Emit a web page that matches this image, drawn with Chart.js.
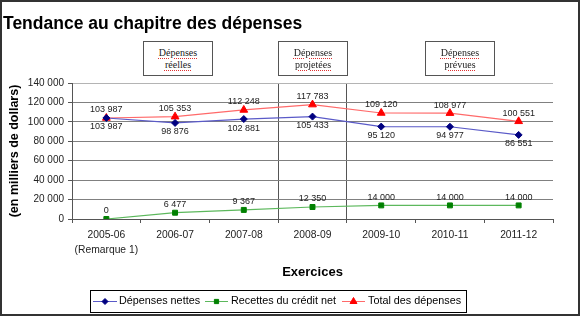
<!DOCTYPE html>
<html>
<head>
<meta charset="utf-8">
<script src="https://cdn.jsdelivr.net/npm/chart.js@4.4.0/dist/chart.umd.min.js"></script>
<style>
  html, body { margin: 0; padding: 0; background: #fff; }
  #wrap { position: relative; width: 580px; height: 316px; overflow: hidden; }
  #chart { position: absolute; left: 0; top: 0; }
  #frame { position: absolute; left: 0; top: 0; width: 580px; height: 316px; box-sizing: border-box;
           border: 2px solid #333; pointer-events: none; }
  .phase { position: absolute; top: 41px; height: 35px; box-sizing: border-box; border: 1px solid #555;
           background: #fff; font: 10px "Liberation Serif", "DejaVu Serif", serif; color: #222;
           text-align: center; line-height: 11.5px; padding-top: 5px; }
  .phase span { text-decoration: underline dotted #e03030; text-underline-offset: 2px; }
</style>
</head>
<body>
<div id="wrap">
  <canvas id="chart" width="580" height="316"></canvas>
  <div class="phase" style="left:143px;width:70px"><span>Dépenses</span><br><span>réelles</span></div>
  <div class="phase" style="left:278px;width:70px"><span>Dépenses</span><br><span>projetées</span></div>
  <div class="phase" style="left:425px;width:70px"><span>Dépenses</span><br><span>prévues</span></div>
  <div id="frame"></div>
</div>
<script>
// values (en milliers de dollars)
const years = [['2005-06', '(Remarque 1)'], '2006-07', '2007-08', '2008-09', '2009-10', '2010-11', '2011-12'];
const depensesNettes = [103987, 98876, 102881, 105433, 95120, 94977, 86551];
const recettesCredit = [0, 6477, 9367, 12350, 14000, 14000, 14000];
const totalDepenses = [103987, 105353, 112248, 117783, 109120, 108977, 100551];
const yTicks = { min: 0, max: 140000, step: 20000 };

const fmt = v => String(v).replace(/\B(?=(\d{3})+(?!\d))/g, ' ');

// number labels above / below the points
const pointLabels = {
  id: 'pointLabels',
  afterDatasetsDraw(chart) {
    const ctx = chart.ctx;
    ctx.save();
    ctx.font = '9px "Liberation Sans", Arial, sans-serif';
    ctx.fillStyle = '#222';
    ctx.textAlign = 'center';
    ctx.textBaseline = 'middle';
    chart.data.datasets.forEach((ds, i) => {
      const meta = chart.getDatasetMeta(i);
      meta.data.forEach((pt, j) => {
        const dy = ds.labelPos === 'below' ? 9 : -8;
        ctx.fillText(fmt(ds.data[j]), pt.x, pt.y + dy);
      });
    });
    ctx.restore();
  }
};

// title and boxed legend
const decor = {
  id: 'decor',
  afterDraw(chart) {
    const ctx = chart.ctx;
    ctx.save();
    ctx.fillStyle = '#000';
    ctx.font = 'bold 17.5px "Liberation Sans", Arial, sans-serif';
    ctx.textBaseline = 'alphabetic';
    ctx.textAlign = 'left';
    ctx.fillText('Tendance au chapitre des dépenses', 3, 29);

    // legend box
    ctx.strokeStyle = '#000';
    ctx.lineWidth = 1;
    ctx.strokeRect(90.5, 290.5, 376, 22);
    const items = [
      { ds: 0, x0: 93, x1: 117, tx: 119 },
      { ds: 1, x0: 205, x1: 228, tx: 231 },
      { ds: 2, x0: 342, x1: 365, tx: 368 }
    ];
    ctx.font = '10.8px "Liberation Sans", Arial, sans-serif';
    ctx.textBaseline = 'middle';
    items.forEach(it => {
      const ds = chart.data.datasets[it.ds];
      const y = 301.5;
      ctx.strokeStyle = ds.borderColor;
      ctx.beginPath();
      ctx.moveTo(it.x0, y);
      ctx.lineTo(it.x1, y);
      ctx.stroke();
      ctx.fillStyle = ds.pointBackgroundColor;
      ctx.strokeStyle = ds.pointBorderColor;
      Chart.helpers.drawPoint(ctx, {
        pointStyle: ds.pointStyle, radius: ds.pointRadius - 0.5, borderWidth: 1
      }, (it.x0 + it.x1) / 2, y);
      ctx.fillStyle = '#000';
      ctx.fillText(ds.label, it.tx, y);
    });
    ctx.restore();
  }
};

new Chart(document.getElementById('chart'), {
  type: 'line',
  data: {
    labels: years,
    datasets: [
      {
        label: 'Dépenses nettes',
        data: depensesNettes,
        borderColor: '#5a5ac8',
        pointStyle: 'rectRot',
        pointRadius: 3.5,
        pointBackgroundColor: '#000080',
        pointBorderColor: '#000080',
        labelPos: 'below'
      },
      {
        label: 'Recettes du crédit net',
        data: recettesCredit,
        borderColor: '#5cb85c',
        pointStyle: 'rect',
        pointRadius: 3.5,
        pointBackgroundColor: '#008000',
        pointBorderColor: '#008000',
        labelPos: 'above'
      },
      {
        label: 'Total des dépenses',
        data: totalDepenses,
        borderColor: '#ff6a6a',
        pointStyle: 'triangle',
        pointRadius: 4.5,
        pointBackgroundColor: '#ff0000',
        pointBorderColor: '#ff0000',
        labelPos: 'above'
      }
    ].map(d => Object.assign({ borderWidth: 1.2, tension: 0, pointBorderWidth: 1, pointHoverRadius: d.pointRadius }, d))
  },
  options: {
    responsive: false,
    animation: false,
    events: [],
    layout: { padding: { left: 0, top: 83, right: 27, bottom: 0 } },
    plugins: {
      legend: { display: false },
      tooltip: { enabled: false }
    },
    scales: {
      x: {
        offset: true,
        grid: {
          offset: true,
          color: c => (c.index === 3 || c.index === 4) ? '#555' : (c.index === 7 ? '#c8c8c8' : 'rgba(0,0,0,0)'),
          tickColor: '#555',
          tickLength: 4
        },
        border: { color: '#555' },
        ticks: {
          color: '#222',
          padding: 5,
          maxRotation: 0,
          font: { family: '"Liberation Sans", Arial, sans-serif', size: 10.3, lineHeight: 1.45 }
        },
        title: {
          display: true,
          text: 'Exercices',
          color: '#000',
          font: { family: '"Liberation Sans", Arial, sans-serif', size: 13, weight: 'bold', lineHeight: 1.2 },
          padding: { top: 0, bottom: 36 }
        },
        afterFit(scale) { scale.height = 97; }
      },
      y: {
        min: yTicks.min,
        max: yTicks.max,
        grid: {
          color: c => c.tick && c.tick.value === yTicks.max ? '#b4b4b4' : '#808080',
          tickColor: '#555',
          tickLength: 4
        },
        border: { color: '#555' },
        ticks: {
          stepSize: yTicks.step,
          color: '#222',
          padding: 4,
          font: { family: '"Liberation Sans", Arial, sans-serif', size: 10 },
          callback: v => fmt(v)
        },
        title: {
          display: true,
          text: '(en milliers de dollars)',
          color: '#000',
          font: { family: '"Liberation Sans", Arial, sans-serif', size: 12.5, weight: 'bold', lineHeight: 1.2 },
          padding: { top: 7.5, bottom: 0 }
        },
        afterFit(scale) { scale.width = 72; }
      }
    }
  },
  plugins: [pointLabels, decor]
});
</script>
</body>
</html>
